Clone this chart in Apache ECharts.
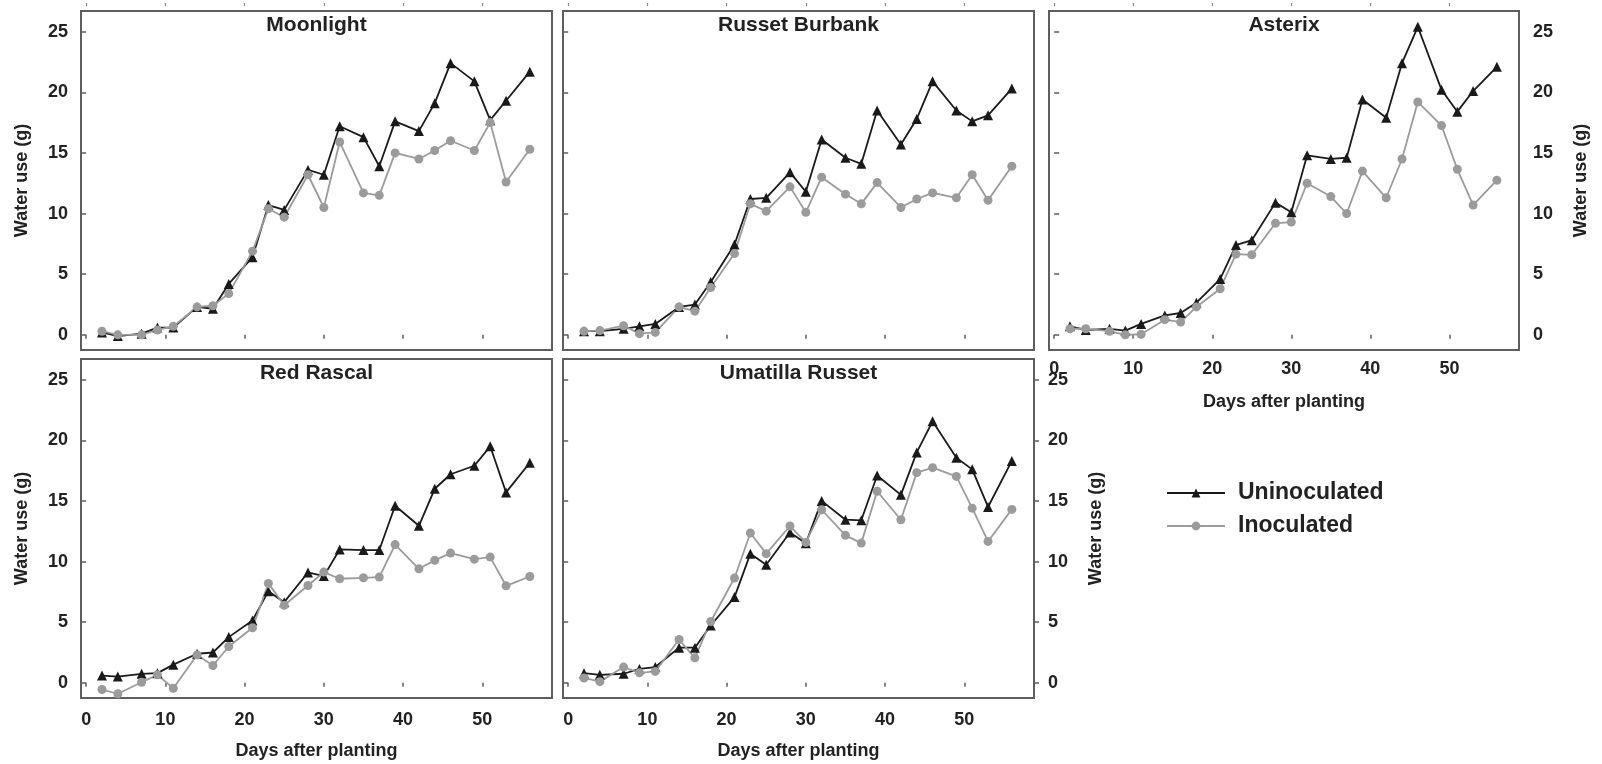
<!DOCTYPE html>
<html>
<head>
<meta charset="utf-8">
<style>
  html, body { margin: 0; padding: 0; background: #fff; }
  #chart { width: 1602px; height: 764px; }
</style>
</head>
<body>
<div id="chart"></div>
<script src="https://cdn.jsdelivr.net/npm/echarts@6/dist/echarts.min.js"></script>
<script>
// data
var days = [2, 4, 7, 9, 11, 14, 16, 18, 21, 23, 25, 28, 30, 32, 35, 37, 39, 42, 44, 46, 49, 51, 53, 56];
var xTicks = [0, 10, 20, 30, 40, 50];
var yTicks = [0, 5, 10, 15, 20, 25];
var cultivars = ['Moonlight', 'Russet Burbank', 'Asterix', 'Red Rascal', 'Umatilla Russet'];
var seriesNames = ['Uninoculated', 'Inoculated'];

var moonlightUnin = [0.2, -0.1, 0.1, 0.6, 0.6, 2.3, 2.15, 4.2, 6.4, 10.7, 10.3, 13.6, 13.2, 17.2, 16.3, 13.9, 17.6, 16.8, 19.1, 22.4, 20.9, 17.7, 19.3, 21.7];
var moonlightInoc = [0.3, 0.0, 0.0, 0.4, 0.7, 2.3, 2.4, 3.4, 6.9, 10.4, 9.7, 13.2, 10.5, 15.9, 11.7, 11.5, 15.0, 14.5, 15.2, 16.0, 15.2, 17.5, 12.6, 15.3];
var burbankUnin = [0.3, 0.3, 0.5, 0.7, 0.9, 2.3, 2.5, 4.35, 7.45, 11.2, 11.3, 13.4, 11.8, 16.1, 14.6, 14.1, 18.5, 15.7, 17.8, 20.9, 18.5, 17.6, 18.1, 20.3];
var burbankInoc = [0.3, 0.35, 0.75, 0.1, 0.2, 2.3, 1.95, 3.9, 6.7, 10.8, 10.2, 12.2, 10.1, 13.0, 11.6, 10.8, 12.55, 10.5, 11.2, 11.7, 11.3, 13.2, 11.1, 13.9];
var asterixUnin = [0.7, 0.4, 0.5, 0.35, 0.9, 1.6, 1.8, 2.65, 4.6, 7.4, 7.8, 10.9, 10.1, 14.8, 14.5, 14.6, 19.4, 17.9, 22.4, 25.4, 20.2, 18.4, 20.1, 22.1];
var asterixInoc = [0.5, 0.5, 0.3, 0.0, 0.05, 1.25, 1.05, 2.3, 3.8, 6.65, 6.6, 9.2, 9.3, 12.5, 11.4, 10.0, 13.5, 11.3, 14.5, 19.2, 17.25, 13.65, 10.7, 12.75];
var rascalUnin = [0.6, 0.52, 0.74, 0.8, 1.5, 2.4, 2.5, 3.77, 5.14, 7.56, 6.65, 9.1, 8.8, 11.0, 10.95, 10.95, 14.6, 12.95, 16.0, 17.2, 17.9, 19.5, 15.7, 18.15];
var rascalInoc = [-0.55, -0.9, 0.05, 0.66, -0.45, 2.3, 1.43, 3.0, 4.54, 8.2, 6.4, 8.03, 9.13, 8.58, 8.66, 8.72, 11.4, 9.4, 10.1, 10.7, 10.2, 10.37, 8.0, 8.77];
var umatillaUnin = [0.8, 0.66, 0.75, 1.15, 1.3, 2.9, 2.9, 4.73, 7.07, 10.65, 9.74, 12.4, 11.5, 15.0, 13.45, 13.4, 17.1, 15.5, 19.0, 21.56, 18.56, 17.6, 14.5, 18.3];
var umatillaInoc = [0.4, 0.1, 1.3, 0.83, 0.94, 3.57, 2.06, 5.06, 8.64, 12.35, 10.65, 12.93, 11.58, 14.27, 12.16, 11.52, 15.8, 13.45, 17.33, 17.74, 17.02, 14.4, 11.66, 14.3];

var uninData = [moonlightUnin, burbankUnin, asterixUnin, rascalUnin, umatillaUnin];
var inocData = [moonlightInoc, burbankInoc, asterixInoc, rascalInoc, umatillaInoc];

var FONT = '"Liberation Sans", Arial, sans-serif';
var TXT = '#222';
var EDGE = '#5e5e5e';

// panel layout
var panels = [
  { left: 81,   top: 11,  width: 471, height: 339, yLeft: 'labels', yRight: null,     xLabels: false, topTicks: true },
  { left: 563,  top: 11,  width: 471, height: 339, yLeft: 'ticks',  yRight: null,     xLabels: false, topTicks: true },
  { left: 1049, top: 11,  width: 470, height: 339, yLeft: null,     yRight: 'labels', xLabels: true, labelMargin: 10.5, nameGap: 43, topTicks: true },
  { left: 81,   top: 359, width: 471, height: 339, yLeft: 'labels', yRight: null,     xLabels: true, labelMargin: 13.5, nameGap: 44.5 },
  { left: 563,  top: 359, width: 471, height: 339, yLeft: 'ticks',  yRight: 'labels', xLabels: true, labelMargin: 13.5, nameGap: 44.5 }
];

var grids = [], xAxes = [], yAxes = [], series = [], titles = [];

function makeY(gi, pos, mode) {
  var labels = mode === 'labels';
  return {
    type: 'value', gridIndex: gi, position: pos,
    min: -1.25, max: 26.7,
    splitLine: { show: false },
    axisLine: { show: false },
    axisTick: { show: true, inside: false, length: 5, customValues: yTicks, lineStyle: { color: EDGE, width: 1.5 } },
    axisLabel: { show: labels, customValues: yTicks, margin: pos === 'left' ? 13 : 14,
                 color: TXT, fontFamily: FONT, fontWeight: 'bold', fontSize: 18 },
    name: labels ? 'Water use (g)' : '',
    nameLocation: 'middle',
    nameGap: pos === 'left' ? 50 : 53,
    nameTextStyle: { color: TXT, fontFamily: FONT, fontWeight: 'bold', fontSize: 18 }
  };
}

panels.forEach(function (p, i) {
  grids.push({ left: p.left, top: p.top, width: p.width, height: p.height,
               show: true, borderColor: EDGE, borderWidth: 2, backgroundColor: '#fff' });

  xAxes.push({
    type: 'value', gridIndex: i, position: 'bottom',
    min: -0.65, max: 58.8,
    splitLine: { show: false },
    axisLine: { show: false },
    axisTick: { show: true, inside: false, length: 4, customValues: xTicks, lineStyle: { color: EDGE, width: 1.5 } },
    axisLabel: { show: p.xLabels, customValues: xTicks, margin: p.labelMargin || 12,
                 color: TXT, fontFamily: FONT, fontWeight: 'bold', fontSize: 18 },
    name: p.xLabels ? 'Days after planting' : '',
    nameLocation: 'middle',
    nameGap: p.nameGap || 44,
    nameTextStyle: { color: TXT, fontFamily: FONT, fontWeight: 'bold', fontSize: 18 }
  });
  var xIdx = xAxes.length - 1;

  if (p.topTicks) {
    // small stray ticks above the upper panels
    xAxes.push({
      type: 'value', gridIndex: i, position: 'top', offset: 5,
      min: -0.65, max: 58.8,
      splitLine: { show: false },
      axisLine: { show: false },
      axisTick: { show: true, inside: false, length: 3, customValues: xTicks, lineStyle: { color: '#888', width: 1.2 } },
      axisLabel: { show: false }
    });
  }

  var yIdx = null;
  if (p.yLeft) { yAxes.push(makeY(i, 'left', p.yLeft)); yIdx = yAxes.length - 1; }
  if (p.yRight) { yAxes.push(makeY(i, 'right', p.yRight)); if (yIdx === null) yIdx = yAxes.length - 1; }

  titles.push({
    text: cultivars[i], left: p.left + p.width / 2, top: p.top + 3.5, textAlign: 'center', padding: 0,
    textStyle: { color: TXT, fontFamily: FONT, fontWeight: 'bold', fontSize: 21 }
  });

  series.push({
    name: seriesNames[0], type: 'line', xAxisIndex: xIdx, yAxisIndex: yIdx,
    data: days.map(function (d, j) { return [d, uninData[i][j]]; }),
    symbol: 'triangle', symbolSize: 10,
    lineStyle: { color: '#1a1a1a', width: 1.8 },
    itemStyle: { color: '#1a1a1a' },
    animation: false
  });
  series.push({
    name: seriesNames[1], type: 'line', xAxisIndex: xIdx, yAxisIndex: yIdx,
    data: days.map(function (d, j) { return [d, inocData[i][j]]; }),
    symbol: 'circle', symbolSize: 9,
    lineStyle: { color: '#9b9b9b', width: 1.8 },
    itemStyle: { color: '#9b9b9b' },
    animation: false
  });
});

var chart = echarts.init(document.getElementById('chart'));
chart.setOption({
  animation: false,
  backgroundColor: '#fff',
  title: titles,
  grid: grids,
  xAxis: xAxes,
  yAxis: yAxes,
  legend: {
    data: seriesNames,
    orient: 'vertical',
    left: 1166, top: 479,
    padding: 0,
    itemWidth: 58, itemHeight: 11,
    itemGap: 5,
    textStyle: { color: TXT, fontFamily: FONT, fontWeight: 'bold', fontSize: 23, lineHeight: 28, padding: [0, 0, 0, 8] }
  },
  series: series
});
</script>
</body>
</html>
